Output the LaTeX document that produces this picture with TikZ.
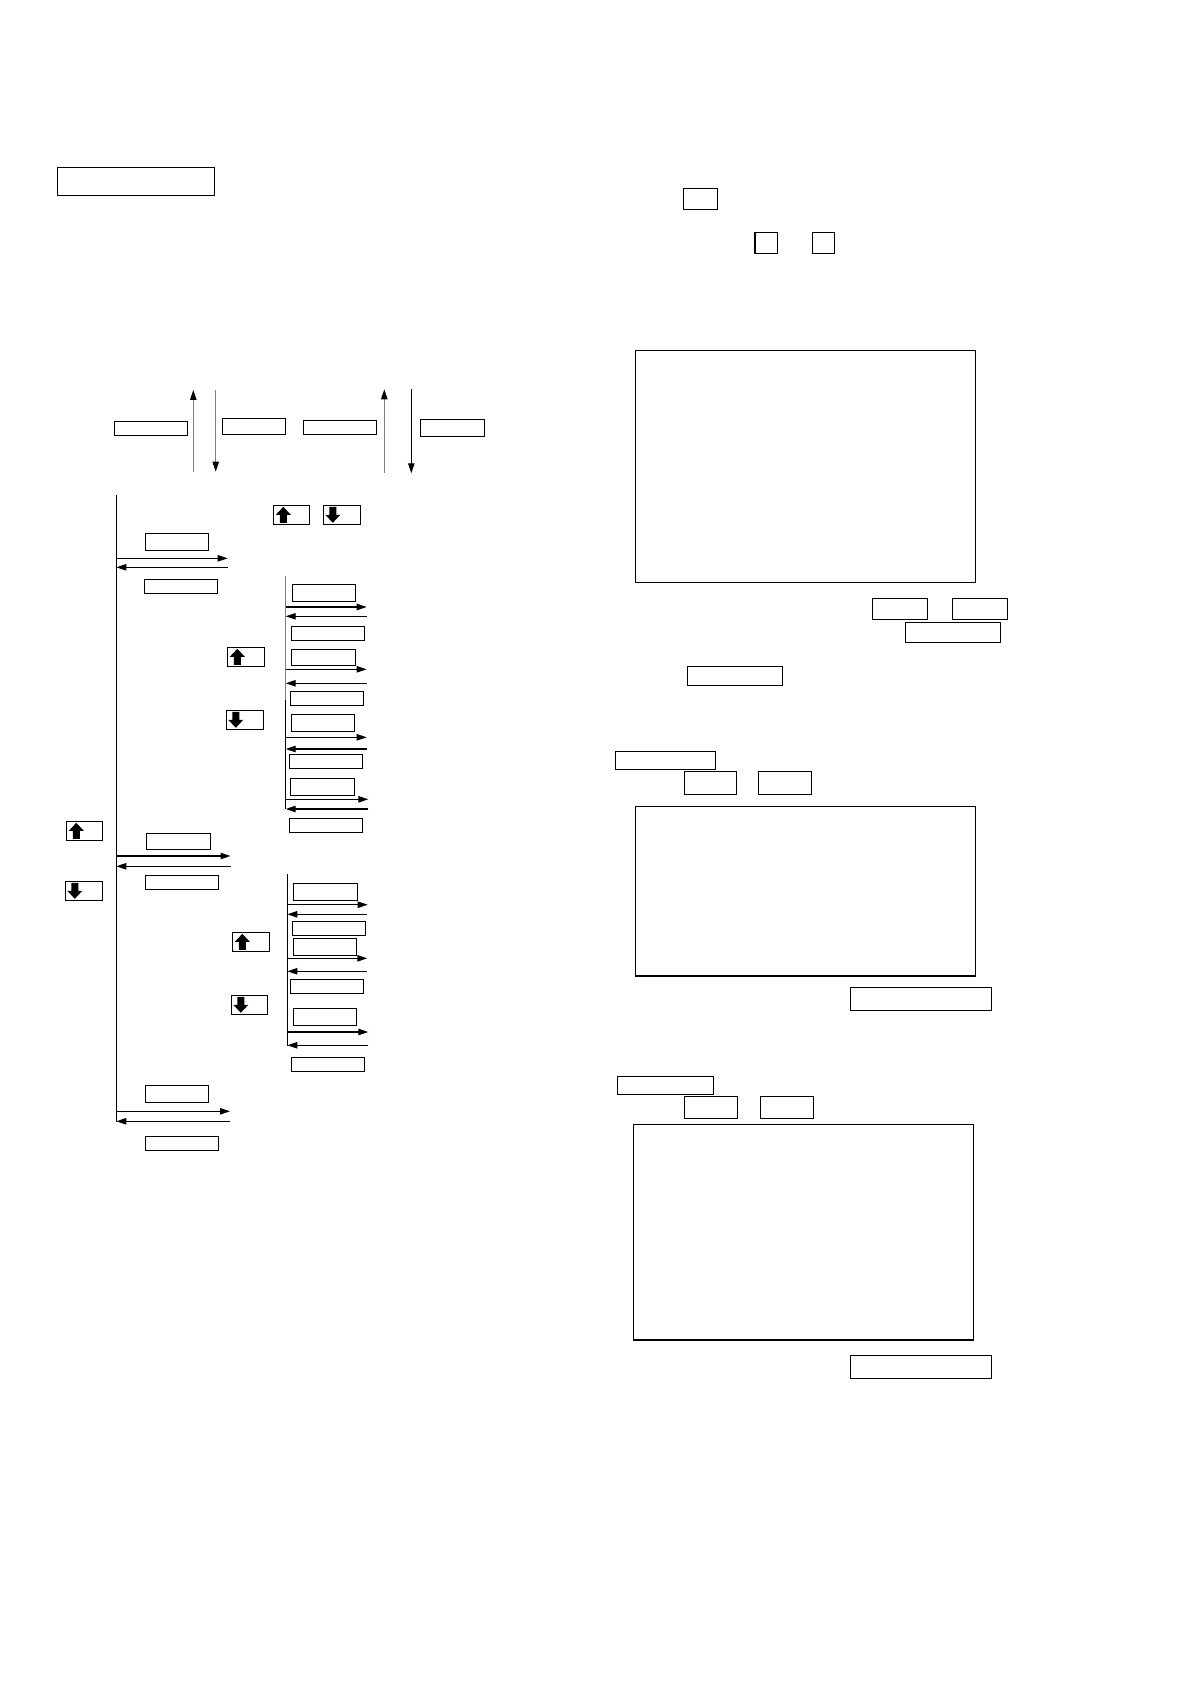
\documentclass[tikz,border=0pt]{standalone}
\usetikzlibrary{arrows.meta,fit}
\tikzset{
  bx/.style={draw,line width=0.6pt,inner sep=0pt,outer sep=0pt},
  arr/.style={line width=0.6pt,-{Triangle[length=5pt,width=3.2pt,color=black]}},
  ln/.style={line width=0.6pt},
  gr/.style={draw=black!50},
}
\newcommand\mybox[5]{\node[bx,fit={(#2,#3) (#4,#5)}] (#1) {};}
\newcommand\upicon[5]{\mybox{#1}{#2}{#3}{#4}{#5}%
  \fill (#2+10,#3+1.5) -- (#2+17.5,#3+9.5) -- (#2+13.5,#3+9.5) -- (#2+13.5,#5-1.5) -- (#2+6.5,#5-1.5) -- (#2+6.5,#3+9.5) -- (#2+2.5,#3+9.5) -- cycle;}
\newcommand\dnicon[5]{\mybox{#1}{#2}{#3}{#4}{#5}%
  \fill (#2+9.5,#5-1.5) -- (#2+17,#5-9.5) -- (#2+13,#5-9.5) -- (#2+13,#3+1.5) -- (#2+6,#3+1.5) -- (#2+6,#5-9.5) -- (#2+2,#5-9.5) -- cycle;}
\begin{document}
\begin{tikzpicture}[x=0.5pt,y=-0.5pt]
\fill[white] (0,0) rectangle (1190,1684);
\useasboundingbox (0,0) rectangle (1190,1684);

% title box
\mybox{title}{57.3}{167.3}{214.7}{195.3}

% top row
\mybox{ta}{114.3}{421.3}{187.7}{435.3}
\mybox{tb}{222.3}{418.3}{285.7}{434.3}
\mybox{tc}{303.3}{420.3}{376.7}{434.3}
\mybox{td}{420.3}{419.3}{484.7}{436.3}
\draw[arr,gr] (193.3,471.7) coordinate (u1s) -- (193.3,390) coordinate (u1e);
\draw[arr,gr] (215.7,390) coordinate (d1s) -- (215.7,471.7) coordinate (d1e);
\draw[arr,gr] (384.3,473.3) coordinate (u2s) -- (384.3,389.3) coordinate (u2e);
\draw[arr] (411.3,389) coordinate (d2s) -- (411.3,473.3) coordinate (d2e);

% main vertical line
\draw[ln] (116.3,495) coordinate (mtop) -- (116.3,1121.7) coordinate (mbot);

% icons near top
\upicon{iu1}{273.3}{505.3}{309.3}{524.3}
\dnicon{id1}{323.3}{505.3}{360.3}{524.3}

% main branch 1
\mybox{m1}{145.3}{533.3}{208.3}{550.3}
\draw[arr] (116.3,558.3) coordinate (a1s) -- (227.7,558.3) coordinate (a1e);
\draw[arr] (227.7,567.3) coordinate (a2s) -- (116.3,567.3) coordinate (a2e);
\mybox{m2}{144.3}{579.3}{217.3}{593.3}

% sub branch 1
\draw[ln,gr] (285.7,576) coordinate (s1top) -- (285.7,700) coordinate (s1mid);
\draw[ln] (s1mid) -- (285.7,809) coordinate (s1bot);
\mybox{s1}{292.3}{584.3}{355.3}{601.3}
\draw[arr] (285.7,607) coordinate (b1s) -- (366.7,607) coordinate (b1e);
\draw[arr] (366.7,616.3) coordinate (b2s) -- (285.7,616.3) coordinate (b2e);
\mybox{s2}{291.3}{626.3}{364.3}{640.3}
\upicon{iu2}{227.3}{647.3}{264.3}{666.3}
\mybox{s3}{291.3}{649.3}{355.3}{665.3}
\draw[arr] (285.7,669.3) coordinate (b3s) -- (366.7,669.3) coordinate (b3e);
\draw[arr] (366.7,683.3) coordinate (b4s) -- (285.7,683.3) coordinate (b4e);
\mybox{s4}{290.3}{691.3}{363.3}{705.3}
\dnicon{id2}{226.3}{710.3}{263.3}{729.3}
\mybox{s5}{291.3}{714.3}{354.3}{731.3}
\draw[arr] (285.7,737.3) coordinate (b5s) -- (366.7,737.3) coordinate (b5e);
\draw[arr] (366.7,749) coordinate (b6s) -- (285.7,749) coordinate (b6e);
\mybox{s6}{289.3}{754.3}{362.3}{768.3}
\mybox{s7}{290.3}{778.3}{354.3}{795.3}
\draw[arr] (285.7,799.3) coordinate (b7s) -- (368.3,799.3) coordinate (b7e);
\draw[arr] (368.3,809) coordinate (b8s) -- (285.7,809) coordinate (b8e);
\mybox{s8}{289.3}{818.3}{362.3}{832.3}

% left icons
\upicon{iu3}{66.3}{821.3}{102.3}{840.3}
\dnicon{id3}{65.3}{881.3}{102.3}{900.3}

% main branch 2
\mybox{m3}{146.3}{833.3}{210.3}{849.3}
\draw[arr] (116.3,856) coordinate (c1s) -- (230.5,856) coordinate (c1e);
\draw[arr] (230.5,866.3) coordinate (c2s) -- (116.3,866.3) coordinate (c2e);
\mybox{m4}{145.3}{875.3}{218.3}{889.3}

% sub branch 2
\draw[ln] (287.3,874) coordinate (s2top) -- (287.3,1045.7) coordinate (s2bot);
\mybox{t1}{293.3}{883.3}{357.3}{900.3}
\draw[arr] (287.3,904.7) coordinate (e1s) -- (367.7,904.7) coordinate (e1e);
\draw[arr] (366.7,914.3) coordinate (e2s) -- (287.3,914.3) coordinate (e2e);
\mybox{t2}{292.3}{921.3}{365.3}{935.3}
\upicon{iu4}{232.3}{932.3}{269.3}{951.3}
\mybox{t3}{293.3}{938.3}{356.3}{955.3}
\draw[arr] (287.3,958.3) coordinate (e3s) -- (367.3,958.3) coordinate (e3e);
\draw[arr] (366.7,971.3) coordinate (e4s) -- (287.3,971.3) coordinate (e4e);
\mybox{t4}{290.3}{979.3}{363.3}{993.3}
\dnicon{id4}{231.3}{995.3}{267.3}{1014.3}
\mybox{t5}{293.3}{1008.3}{356.3}{1025.3}
\draw[arr] (287.3,1032) coordinate (e5s) -- (368.3,1032) coordinate (e5e);
\draw[arr] (368.3,1045.3) coordinate (e6s) -- (287.3,1045.3) coordinate (e6e);
\mybox{t6}{291.3}{1057.3}{364.3}{1071.3}

% main branch 3
\mybox{m5}{145.3}{1085.3}{208.3}{1102.3}
\draw[arr] (116.3,1111.3) coordinate (f1s) -- (230,1111.3) coordinate (f1e);
\draw[arr] (230,1121.3) coordinate (f2s) -- (116.3,1121.3) coordinate (f2e);
\mybox{m6}{145.3}{1136.3}{218.3}{1150.3}

% right column
\mybox{r0}{683.3}{188.3}{717.3}{209.3}
\mybox{q1}{755}{232.3}{777.3}{253.3}
\mybox{q2}{812.3}{232.3}{834.3}{253.3}
\mybox{big1}{635.3}{350.7}{975.3}{582.3}
\mybox{r1}{872.3}{598.3}{927.3}{619.3}
\mybox{r2}{952.3}{598.3}{1007.3}{619.3}
\mybox{r3}{905.3}{622.3}{1000.3}{642.3}
\mybox{r4}{687.3}{666.3}{782.7}{685.3}
\mybox{r5}{615.3}{751.3}{715.3}{769.3}
\mybox{r6}{684.3}{771.3}{736.3}{794.3}
\mybox{r7}{758.3}{771.3}{811.3}{794.3}
\mybox{big2}{635.3}{806.7}{975.3}{976}
\mybox{r8}{850.3}{987.3}{991.3}{1010.3}
\mybox{r9}{617.3}{1076.3}{713.7}{1094.3}
\mybox{r10}{684.3}{1096.3}{737.3}{1118.3}
\mybox{r11}{760.3}{1096.3}{813.3}{1118.3}
\mybox{big3}{633.3}{1124.3}{973.3}{1340}
\mybox{r12}{850.3}{1355.3}{991.7}{1378.3}
\end{tikzpicture}
\end{document}
